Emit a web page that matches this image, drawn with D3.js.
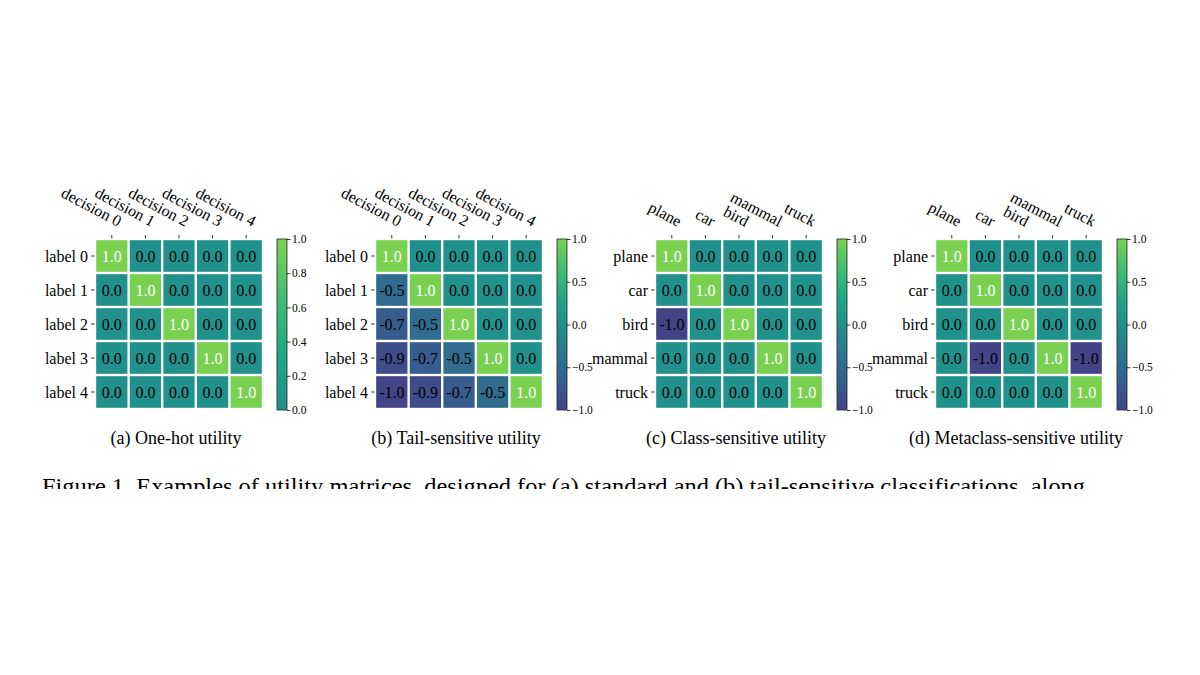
<!DOCTYPE html>
<html>
  <head>
    <meta charset="utf-8">
    <title>utility matrices</title>
    <script src="https://d3js.org/d3.v7.min.js"></script>
    <style type="text/css">
    body { margin: 0; background: #fff; }
    text { font-family: "Liberation Serif", "Times New Roman", serif; }
    </style>
  </head>
  <body>
    <div id="chart"></div>

    <script>
      // data
      var decisions = ['decision 0', 'decision 1', 'decision 2', 'decision 3', 'decision 4'];
      var labels = ['label 0', 'label 1', 'label 2', 'label 3', 'label 4'];
      var classes = ['plane', 'car', 'bird', 'mammal', 'truck'];

      var oneHot = [
        [1, 0, 0, 0, 0],
        [0, 1, 0, 0, 0],
        [0, 0, 1, 0, 0],
        [0, 0, 0, 1, 0],
        [0, 0, 0, 0, 1]
      ];
      var tailSensitive = [
        [1, 0, 0, 0, 0],
        [-0.5, 1, 0, 0, 0],
        [-0.7, -0.5, 1, 0, 0],
        [-0.9, -0.7, -0.5, 1, 0],
        [-1, -0.9, -0.7, -0.5, 1]
      ];
      var classSensitive = [
        [1, 0, 0, 0, 0],
        [0, 1, 0, 0, 0],
        [-1, 0, 1, 0, 0],
        [0, 0, 0, 1, 0],
        [0, 0, 0, 0, 1]
      ];
      var metaclassSensitive = [
        [1, 0, 0, 0, 0],
        [0, 1, 0, 0, 0],
        [0, 0, 1, 0, 0],
        [0, -1, 0, 1, -1],
        [0, 0, 0, 0, 1]
      ];

      var ticksUnit = [0, 0.2, 0.4, 0.6, 0.8, 1.0];
      var ticksSigned = [-1.0, -0.5, 0.0, 0.5, 1.0];

      var captions = ['(a) One-hot utility', '(b) Tail-sensitive utility',
                      '(c) Class-sensitive utility', '(d) Metaclass-sensitive utility'];
      var figCaption = 'Figure 1. Examples of utility matrices, designed for (a) standard and (b) tail-sensitive classifications, along';

      var panels = [
        {cols: decisions, rows: labels, m: oneHot, dom: [0, 1], ticks: ticksUnit},
        {cols: decisions, rows: labels, m: tailSensitive, dom: [-1, 1], ticks: ticksSigned},
        {cols: classes, rows: classes, m: classSensitive, dom: [-1, 1], ticks: ticksSigned},
        {cols: classes, rows: classes, m: metaclassSensitive, dom: [-1, 1], ticks: ticksSigned}
      ];

      var width = 1200, height = 675;
      var svg = d3.select('#chart').append('svg')
          .attr('width', width)
          .attr('height', height);

      // truncated viridis: value -1..1 -> 0.2..0.8
      var toT = d3.scaleLinear().domain([-1, 1]).range([0.2, 0.8]);
      function color(v) { return d3.interpolateViridis(toT(v)); }

      var gridW = 168, gridH = 170, gridTop = 239;
      var fmt = d3.format('.1f');
      var defs = svg.append('defs');

      panels.forEach(function(p, i) {
        var x0 = 95 + 280 * i;
        var g = svg.append('g').attr('transform', 'translate(' + x0 + ',' + gridTop + ')');

        var x = d3.scaleBand().domain(d3.range(5)).range([0, gridW]).paddingInner(0.07).paddingOuter(0.035);
        var y = d3.scaleBand().domain(d3.range(5)).range([0, gridH]).paddingInner(0.07).paddingOuter(0.035);

        var cells = [];
        p.m.forEach(function(row, r) {
          row.forEach(function(v, c) { cells.push({r: r, c: c, v: v}); });
        });

        g.selectAll('rect.cell')
          .data(cells)
          .enter()
          .append('rect')
          .attr('class', 'cell')
          .attr('x', function(d) { return x(d.c); })
          .attr('y', function(d) { return y(d.r); })
          .attr('width', x.bandwidth())
          .attr('height', y.bandwidth())
          .style('fill', function(d) { return color(d.v); });

        g.selectAll('text.val')
          .data(cells)
          .enter()
          .append('text')
          .attr('class', 'val')
          .attr('x', function(d) { return x(d.c) + x.bandwidth() / 2; })
          .attr('y', function(d) { return y(d.r) + y.bandwidth() / 2; })
          .attr('dy', '0.35em')
          .attr('text-anchor', 'middle')
          .style('font-size', '16px')
          .style('fill', function(d) { return d.v === 1 ? '#fff' : '#000'; })
          .text(function(d) { return fmt(d.v).replace('\u2212', '-'); });

        // y axis
        p.rows.forEach(function(name, r) {
          var ty = y(r) + y.bandwidth() / 2;
          g.append('line')
            .attr('x1', -4).attr('x2', -0.5)
            .attr('y1', ty).attr('y2', ty)
            .style('stroke', '#000').style('stroke-width', 0.8);
          g.append('text')
            .attr('x', -7).attr('y', ty)
            .attr('dy', '0.35em')
            .attr('text-anchor', 'end')
            .style('font-size', '16px')
            .text(name);
        });

        // x axis on top, rotated
        p.cols.forEach(function(name, c) {
          var cx = x(c) + x.bandwidth() / 2;
          g.append('line')
            .attr('x1', cx).attr('x2', cx)
            .attr('y1', -4).attr('y2', -0.5)
            .style('stroke', '#000').style('stroke-width', 0.8);
          g.append('text')
            .attr('transform', 'translate(' + (cx + 6) + ',' + (-12) + ') rotate(28)')
            .attr('text-anchor', 'end')
            .style('font-size', '16px')
            .text(name);
        });

        // colorbar
        var cbX = 182, cbW = 10;
        var gid = 'grad' + i;
        var grad = defs.append('linearGradient')
          .attr('id', gid)
          .attr('x1', 0).attr('y1', 1).attr('x2', 0).attr('y2', 0);
        d3.range(0, 1.0001, 0.1).forEach(function(s) {
          grad.append('stop')
            .attr('offset', s)
            .attr('stop-color', color(p.dom[0] + s * (p.dom[1] - p.dom[0])));
        });
        var cbScale = d3.scaleLinear().domain(p.dom).range([gridH + 1, 0]);
        g.append('rect')
          .attr('x', cbX).attr('y', 0)
          .attr('width', cbW).attr('height', gridH + 1)
          .style('fill', 'url(#' + gid + ')')
          .style('stroke', '#222').style('stroke-width', 0.8);

        var cbAxis = d3.axisRight(cbScale)
          .tickValues(p.ticks)
          .tickSize(3.5)
          .tickFormat(function(v) { return fmt(v); });
        var ax = g.append('g')
          .attr('transform', 'translate(' + (cbX + cbW) + ',0)')
          .call(cbAxis);
        ax.select('.domain').remove();
        ax.selectAll('line').style('stroke', '#000').style('stroke-width', 0.8);
        ax.selectAll('text')
          .style('font-family', '"Liberation Serif", serif')
          .style('font-size', '11.5px')
          .attr('x', 5);

        // caption
        svg.append('text')
          .attr('x', x0 + gridW / 2 - 3)
          .attr('y', 444)
          .attr('text-anchor', 'middle')
          .style('font-size', '18px')
          .text(captions[i]);
      });

      // figure caption, cut off at the bottom of the crop
      defs.append('clipPath').attr('id', 'capclip')
        .append('rect').attr('x', 0).attr('y', 460).attr('width', width).attr('height', 29);
      svg.append('text')
        .attr('clip-path', 'url(#capclip)')
        .attr('x', 42)
        .attr('y', 494)
        .attr('textLength', 1043)
        .attr('lengthAdjust', 'spacingAndGlyphs')
        .style('font-size', '23px')
        .text(figCaption);
    </script>
  </body>
</html>
